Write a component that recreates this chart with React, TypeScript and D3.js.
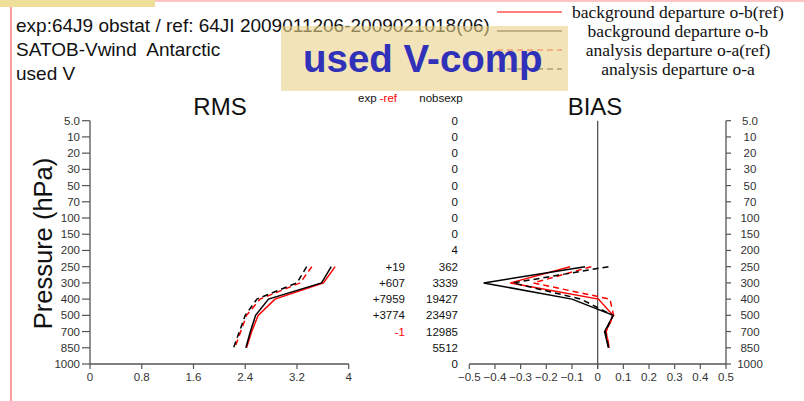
import React from "react";
import * as d3 from "d3";

// Pressure levels (top to bottom of the profile axes)
const levels = ["5.0", "10", "20", "30", "50", "70", "100", "150", "200", "250", "300", "400", "500", "700", "850", "1000"];
// Levels that carry statistics
const dataLevels = ["250", "300", "400", "500", "700", "850"];

// RMS of departures (m/s)
const rmsObRef = [3.79, 3.61, 2.86, 2.6, 2.5, 2.42];
const rmsOb = [3.73, 3.58, 2.76, 2.56, 2.48, 2.41];
const rmsOaRef = [3.43, 3.25, 2.63, 2.42, 2.33, 2.24];
const rmsOa = [3.35, 3.2, 2.58, 2.4, 2.31, 2.22];

// Mean (bias) of departures (m/s)
const biasObRef = [-0.107, -0.34, 0.003, 0.06, 0.032, 0.045];
const biasOb = [-0.049, -0.444, -0.1, 0.061, 0.027, 0.042];
const biasOaRef = [-0.025, -0.25, 0.048, 0.062, 0.033, 0.045];
const biasOa = [0.042, -0.33, -0.065, 0.06, 0.03, 0.043];

// Observation counts per level and difference exp - ref
const nobsExp = [0, 0, 0, 0, 0, 0, 0, 0, 4, 362, 3339, 19427, 23497, 12985, 5512, 0];
const nobsDiff: (number | null)[] = [null, null, null, null, null, null, null, null, null, 19, 607, 7959, 3774, -1, null, null];

const rmsTicks = [0, 0.8, 1.6, 2.4, 3.2, 4];
const biasTicks = [-0.5, -0.4, -0.3, -0.2, -0.1, 0, 0.1, 0.2, 0.3, 0.4, 0.5];

const headerLines = [
  "exp:64J9 obstat / ref: 64JI 2009011206-2009021018(06)",
  "SATOB-Vwind  Antarctic",
  "used V",
];

const legendItems = [
  { label: "background departure o-b(ref)", color: "#ff0000", dash: "none" },
  { label: "background departure o-b", color: "#000000", dash: "none" },
  { label: "analysis departure o-a(ref)", color: "#ff0000", dash: "6,4" },
  { label: "analysis departure o-a", color: "#000000", dash: "6,4" },
];

const SANS = "'Liberation Sans', Arial, Helvetica, sans-serif";
const SERIF = "'Liberation Serif', 'Times New Roman', serif";
const AXIS = "#555";

export default function App() {
  const W = 804;
  const H = 401;

  const y = d3.scalePoint<string>().domain(levels).range([120.7, 364]).padding(0);
  const xRms = d3.scaleLinear().domain([0, 4]).range([90, 348.7]);
  const xBias = d3.scaleLinear().domain([-0.5, 0.5]).range([469.3, 726]);

  const rmsLine = (vals: number[]) =>
    d3
      .line<number>()
      .x((v) => xRms(v))
      .y((_, i) => y(dataLevels[i]) as number)(vals) || "";
  const biasLine = (vals: number[]) =>
    d3
      .line<number>()
      .x((v) => xBias(v))
      .y((_, i) => y(dataLevels[i]) as number)(vals) || "";

  const series = [
    { rms: rmsObRef, bias: biasObRef, ...legendItems[0] },
    { rms: rmsOb, bias: biasOb, ...legendItems[1] },
    { rms: rmsOaRef, bias: biasOaRef, ...legendItems[2] },
    { rms: rmsOa, bias: biasOa, ...legendItems[3] },
  ];

  const yBottom = y("1000") as number;
  const yTop = y("5.0") as number;

  return (
    <svg width={W} height={H} style={{ position: "absolute", left: 0, top: 0, background: "#fff" }}>
      {/* page decorations */}
      <rect x={0} y={0} width={155} height={7} fill="#efdf9a" />
      <line x1={155} y1={1} x2={W} y2={1} stroke="#ffc4c4" strokeWidth={2} />
      <line x1={11} y1={7} x2={11} y2={H} stroke="#ff9c9c" strokeWidth={2} />

      {/* header */}
      {headerLines.map((t, i) => (
        <text key={i} x={16} y={32 + i * 24} fontFamily={SANS} fontSize={19} fill="#111" style={{ whiteSpace: "pre" }}>
          {t}
        </text>
      ))}

      {/* legend */}
      {legendItems.map((d, i) => (
        <g key={i}>
          <line x1={497} x2={562} y1={12 + i * 19} y2={12 + i * 19} stroke={d.color} strokeWidth={1} strokeDasharray={d.dash} />
          <text x={678} y={18 + i * 19} textAnchor="middle" fontFamily={SERIF} fontSize={17.5} fill="#111">
            {d.label}
          </text>
        </g>
      ))}

      {/* titles */}
      <text x={220} y={115} textAnchor="middle" fontFamily={SANS} fontSize={24} fill="#111">RMS</text>
      <text x={595} y={115} textAnchor="middle" fontFamily={SANS} fontSize={24} fill="#111">BIAS</text>
      <text
        transform={`translate(51.5,243.5) rotate(-90)`}
        textAnchor="middle"
        fontFamily={SANS}
        fontSize={25.5}
        fill="#111"
      >
        Pressure (hPa)
      </text>

      {/* left pressure axis */}
      <line x1={90} x2={90} y1={yTop} y2={yBottom} stroke={AXIS} strokeWidth={1.3} />
      {levels.map((l) => (
        <g key={"ly" + l}>
          <line x1={82} x2={90} y1={y(l)} y2={y(l)} stroke={AXIS} strokeWidth={1.2} />
          <text x={80} y={(y(l) as number) + 4} textAnchor="end" fontFamily={SANS} fontSize={11.5} fill="#333">
            {l}
          </text>
        </g>
      ))}

      {/* RMS x axis */}
      <line x1={xRms(0)} x2={xRms(4)} y1={yBottom} y2={yBottom} stroke={AXIS} strokeWidth={1.3} />
      {rmsTicks.map((t) => (
        <g key={"rx" + t}>
          <line x1={xRms(t)} x2={xRms(t)} y1={yBottom} y2={yBottom + 5} stroke={AXIS} strokeWidth={1.2} />
          <text x={xRms(t)} y={381} textAnchor="middle" fontFamily={SANS} fontSize={11.5} fill="#333">
            {String(t)}
          </text>
        </g>
      ))}

      {/* BIAS x axis and zero line */}
      <line x1={xBias(-0.5)} x2={xBias(0.5)} y1={yBottom} y2={yBottom} stroke={AXIS} strokeWidth={1.3} />
      <line x1={xBias(0)} x2={xBias(0)} y1={yTop} y2={yBottom + 5} stroke={AXIS} strokeWidth={1.3} />
      {biasTicks.map((t) => (
        <g key={"bx" + t}>
          <line x1={xBias(t)} x2={xBias(t)} y1={yBottom} y2={yBottom + 5} stroke={AXIS} strokeWidth={1.2} />
          <text x={xBias(t)} y={381} textAnchor="middle" fontFamily={SANS} fontSize={11.5} fill="#333">
            {t === 0 ? "0" : d3.format(".1f")(t)}
          </text>
        </g>
      ))}

      {/* right pressure axis */}
      <line x1={726} x2={726} y1={yTop} y2={yBottom} stroke={AXIS} strokeWidth={1.3} />
      {levels.map((l) => (
        <g key={"ry" + l}>
          <line x1={726} x2={731} y1={y(l)} y2={y(l)} stroke={AXIS} strokeWidth={1.2} />
          <text x={750} y={(y(l) as number) + 4} textAnchor="middle" fontFamily={SANS} fontSize={11.5} fill="#333">
            {l}
          </text>
        </g>
      ))}

      {/* observation counts */}
      <text x={358} y={102} fontFamily={SANS} fontSize={11.5} fill="#111">
        exp <tspan fill="#ff0000">-ref</tspan>
      </text>
      <text x={441} y={102} textAnchor="middle" fontFamily={SANS} fontSize={11.5} fill="#111">nobsexp</text>
      {levels.map((l, i) => (
        <g key={"n" + l}>
          <text x={458} y={(y(l) as number) + 4} textAnchor="end" fontFamily={SANS} fontSize={11.5} fill="#111">
            {nobsExp[i]}
          </text>
          {nobsDiff[i] !== null && (
            <text
              x={405}
              y={(y(l) as number) + 4}
              textAnchor="end"
              fontFamily={SANS}
              fontSize={11.5}
              fill={(nobsDiff[i] as number) < 0 ? "#ff0000" : "#111"}
            >
              {(nobsDiff[i] as number) > 0 ? "+" + nobsDiff[i] : String(nobsDiff[i])}
            </text>
          )}
        </g>
      ))}

      {/* profiles */}
      {series.map((s, i) => (
        <g key={"s" + i} fill="none" stroke={s.color} strokeWidth={1.5} strokeDasharray={s.dash}>
          <path d={rmsLine(s.rms)} />
          <path d={biasLine(s.bias)} />
        </g>
      ))}

      {/* label box */}
      <rect x={281} y={26} width={287} height={65} fill="#e9d289" fillOpacity={0.6} />
      <text x={303} y={72} fontFamily={SANS} fontWeight="bold" fontSize={38.5} fill="#3030b8">
        used V-comp
      </text>
    </svg>
  );
}
